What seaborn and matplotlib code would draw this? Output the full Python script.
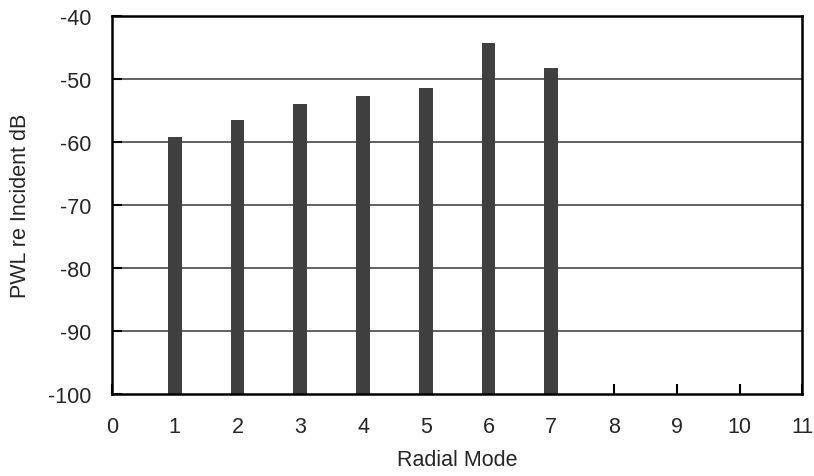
import matplotlib
matplotlib.use("Agg")
import matplotlib.pyplot as plt
import seaborn as sns
import pandas as pd

# Data
modes = [1, 2, 3, 4, 5, 6, 7]
pwl_db = [-59.3, -56.6, -54.0, -52.8, -51.5, -44.3, -48.3]
baseline = -100
x_ticks = list(range(0, 12))
y_ticks = [-100, -90, -80, -70, -60, -50, -40]

sns.set_theme(style="white")
plt.rcParams['font.family'] = ['Liberation Sans', 'DejaVu Sans']

df = pd.DataFrame({"mode": modes, "height": [v - baseline for v in pwl_db]})

fig = plt.figure(figsize=(8.14, 4.77), dpi=100)
ax = fig.add_axes([0.1376, 0.172, 0.848, 0.793])

for y in y_ticks[1:-1]:
    ax.axhline(y, color="#555555", lw=1.3, zorder=0)

sns.barplot(data=df, x="mode", y="height", native_scale=True, width=0.22,
            color="#404040", saturation=1, bottom=baseline, ax=ax,
            edgecolor="none", zorder=2)

fs = 15.5
ax.set_xlim(0, 11)
ax.set_ylim(-100, -40)
ax.set_xticks(x_ticks)
ax.set_xticklabels([str(t) for t in x_ticks], fontsize=fs)
ax.set_yticks(y_ticks)
ax.set_yticklabels([str(t) for t in y_ticks], fontsize=fs)
ax.tick_params(axis="both", direction="in", length=7, width=1.5, color="black",
               bottom=True, left=True, top=False, right=False)
ax.tick_params(axis="x", pad=16)
ax.tick_params(axis="y", pad=15)
ax.set_xlabel("Radial Mode", fontsize=fs)
ax.set_ylabel("PWL re Incident dB", fontsize=fs)
ax.xaxis.set_label_coords(0.5, -0.145)
ax.yaxis.set_label_coords(-0.117, 0.5)

for s in ax.spines.values():
    s.set_visible(True)
    s.set_color("black")
    s.set_linewidth(1.8)

ax.grid(False)
fig.savefig("out.png", dpi=100)
